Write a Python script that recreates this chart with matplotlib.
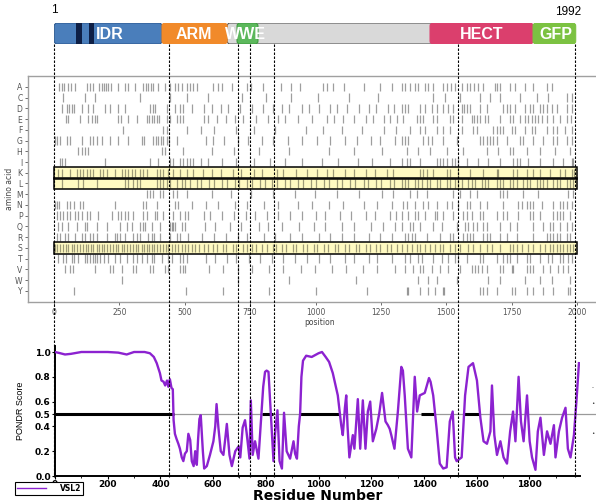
import matplotlib.pyplot as plt
import matplotlib.transforms as mtransforms
from matplotlib.patches import Rectangle, FancyBboxPatch
from matplotlib.lines import Line2D

W, H = 596, 503

# ---- domain map (residue ranges) ----
domain_names = ['IDR', 'ARM', 'WWE', 'HECT', 'GFP']
domain_start = [1, 413, 700, 1438, 1832]
domain_end = [413, 662, 780, 1832, 1995]
domain_colors = ['#4A7EBB', '#F18A2A', '#5CB85C', '#DB3F6D', '#7CC242']
domain_edges = ['#2E5A90', '#F18A2A', '#3E9A3E', '#DB3F6D', '#7CC242']
label_pos = [214, 535, 734, 1635, 1920]
backbone = (662, 1438)
motif_start = [84, 134]
motif_end = [107, 153]
boundaries = [1, 440, 704, 750, 841, 1545, 1992]
seq_len = 1992

# ---- residue positions per amino acid ----
aa_letters = ['A', 'C', 'D', 'E', 'F', 'G', 'H', 'I', 'K', 'L',
              'M', 'N', 'P', 'Q', 'R', 'S', 'T', 'V', 'W', 'Y']
highlight = ['K', 'L', 'S']

pos_A = [20, 29, 38, 55, 65, 80, 127, 138, 148, 173, 182, 191, 199, 208, 217, 246, 272, 284,
         310, 342, 352, 361, 370, 380, 399, 425, 444, 463, 474, 489, 508, 520, 533, 546,
         608, 627, 642, 681, 738, 753, 799, 868, 906, 941, 1028, 1044, 1067, 1109, 1185,
         1247, 1293, 1330, 1342, 1361, 1380, 1393, 1419, 1431, 1451, 1489, 1502, 1517, 1533,
         1559, 1578, 1591, 1606, 1623, 1639, 1686, 1695, 1706, 1744, 1763, 1801, 1833, 1884, 1903]
pos_C = [36, 119, 157, 329, 444, 507, 590, 720, 810, 905, 1010, 1130, 1240,
         1451, 1495, 1553, 1629, 1667, 1706, 1782, 1846, 1890, 1961, 1980]
pos_D = [29, 49, 57, 68, 76, 106, 131, 150, 195, 214, 246, 272, 367, 377, 386, 431, 463, 482,
         494, 527, 575, 603, 637, 665, 711, 756, 798, 836, 871, 899, 947, 976, 1012, 1057, 1082,
         1121, 1166, 1203, 1231, 1277, 1300, 1329, 1342, 1355, 1400, 1419, 1444, 1463, 1489,
         1508, 1527, 1559, 1568, 1578, 1591, 1629, 1655, 1718, 1731, 1744, 1763, 1801, 1820,
         1833, 1859, 1871, 1884, 1903, 1922, 1961, 1980]
pos_E = [46, 55, 99, 131, 144, 157, 166, 246, 255, 284, 316, 354, 364, 374, 382, 393, 403, 431,
         444, 469, 482, 494, 572, 588, 624, 657, 693, 721, 774, 818, 857, 884, 933, 986, 1043,
         1071, 1104, 1147, 1193, 1218, 1263, 1286, 1312, 1336, 1387, 1400, 1412, 1451, 1463,
         1514, 1527, 1559, 1597, 1606, 1616, 1629, 1648, 1661, 1706, 1744, 1757, 1782, 1801,
         1814, 1827, 1839, 1852, 1865, 1884, 1909, 1935, 1961, 1976]
pos_F = [265, 418, 431, 507, 563, 612, 697, 764, 846, 963, 1027, 1103, 1176, 1262, 1308,
         1361, 1400, 1419, 1463, 1489, 1514, 1559, 1604, 1616, 1680, 1693, 1706, 1718, 1750,
         1763, 1801, 1827, 1839, 1884, 1909, 1922, 1954, 1980]
pos_G = [4, 13, 23, 49, 61, 106, 138, 150, 163, 182, 214, 246, 284, 335, 344, 380, 390, 399,
         408, 418, 431, 441, 469, 583, 607, 652, 703, 741, 794, 836, 893, 947, 1004, 1057, 1113,
         1157, 1214, 1246, 1303, 1329, 1342, 1355, 1412, 1431, 1444, 1489, 1540, 1629, 1642,
         1655, 1667, 1680, 1693, 1731, 1782, 1795, 1833, 1871, 1909, 1922, 1961, 1980]
pos_H = [93, 106, 119, 131, 412, 425, 494, 603, 688, 784, 897, 1053, 1146, 1254,
         1349, 1393, 1438, 1502, 1565, 1655, 1699, 1744, 1757, 1807, 1859, 1916, 1973]
pos_I = [23, 32, 42, 195, 367, 399, 444, 456, 482, 494, 507, 520, 533, 562, 587, 643, 697, 763,
         827, 884, 947, 1023, 1087, 1163, 1217, 1284, 1329, 1349, 1361, 1400, 1463, 1476, 1489,
         1502, 1521, 1533, 1546, 1578, 1623, 1661, 1706, 1757, 1769, 1782, 1814, 1859, 1909,
         1948, 1980, 1986]
pos_K = [17, 29, 61, 87, 99, 112, 125, 138, 150, 176, 189, 201, 233, 259, 272, 284, 297, 310,
         329, 342, 354, 393, 405, 418, 437, 456, 482, 507, 533, 568, 603, 637, 684, 716, 763,
         797, 853, 877, 924, 967, 1004, 1043, 1067, 1114, 1146, 1194, 1227, 1273, 1297, 1400,
         1412, 1425, 1451, 1502, 1514, 1546, 1591, 1642, 1693, 1699, 1757, 1769, 1807, 1833,
         1859, 1897, 1935, 1954, 1980, 1988]
pos_L = [29, 93, 112, 163, 272, 284, 303, 316, 329, 393, 405, 418, 431, 444, 469, 488, 501,
         520, 546, 563, 594, 612, 643, 661, 693, 708, 738, 757, 788, 806, 834, 852, 884, 901,
         934, 952, 983, 1001, 1034, 1052, 1083, 1102, 1133, 1151, 1184, 1202, 1233, 1251, 1284,
         1302, 1329, 1342, 1355, 1380, 1393, 1406, 1425, 1438, 1463, 1476, 1502, 1514, 1533,
         1546, 1559, 1584, 1597, 1610, 1635, 1648, 1661, 1693, 1706, 1718, 1744, 1757, 1769,
         1795, 1807, 1820, 1846, 1859, 1871, 1884, 1909, 1922, 1935, 1961, 1973, 1986]
pos_M = [354, 367, 380, 405, 418, 456, 469, 507, 603, 677, 754, 837, 923, 997, 1084, 1167,
         1253, 1297, 1361, 1387, 1425, 1527, 1553, 1591, 1616, 1706, 1718, 1731, 1795, 1852,
         1967, 1986]
pos_N = [4, 10, 20, 48, 61, 76, 99, 110, 233, 342, 352, 393, 463, 475, 527, 583, 627, 693,
         737, 804, 857, 933, 987, 1053, 1107, 1184, 1237, 1293, 1336, 1349, 1380, 1412, 1431,
         1463, 1502, 1521, 1546, 1578, 1591, 1629, 1655, 1718, 1776, 1788, 1807, 1820, 1833,
         1865, 1909, 1935, 1948, 1961, 1980]
pos_P = [10, 23, 36, 48, 61, 80, 93, 106, 125, 138, 170, 221, 246, 255, 272, 284, 303, 342,
         354, 386, 393, 418, 456, 482, 501, 514, 573, 597, 643, 687, 733, 767, 813, 857, 903,
         947, 1003, 1037, 1093, 1137, 1193, 1227, 1283, 1307, 1329, 1355, 1380, 1393, 1419,
         1457, 1463, 1489, 1527, 1565, 1578, 1597, 1629, 1642, 1693, 1718, 1731, 1776, 1820,
         1833, 1859, 1909, 1922, 1935, 1948, 1973]
pos_Q = [17, 29, 55, 87, 119, 125, 163, 201, 252, 278, 297, 329, 339, 348, 374, 405, 444,
         450, 456, 463, 488, 501, 577, 617, 673, 717, 783, 817, 873, 937, 993, 1037, 1103,
         1147, 1213, 1257, 1303, 1329, 1361, 1374, 1400, 1451, 1482, 1540, 1572, 1584, 1604,
         1616, 1642, 1655, 1706, 1744, 1769, 1833, 1871, 1897, 1909, 1935, 1961, 1980]
pos_R = [13, 23, 42, 55, 80, 106, 119, 138, 150, 163, 201, 233, 242, 252, 272, 303, 316, 329,
         361, 374, 382, 405, 444, 469, 482, 514, 567, 613, 657, 703, 737, 803, 847, 903, 947,
         1013, 1057, 1103, 1147, 1203, 1247, 1293, 1342, 1355, 1368, 1380, 1425, 1476, 1514,
         1527, 1565, 1578, 1591, 1604, 1642, 1655, 1667, 1706, 1731, 1769, 1833, 1884, 1897,
         1909, 1922, 1935, 1961, 1973]
pos_S = [4, 13, 23, 36, 46, 55, 68, 76, 89, 99, 112, 122, 131, 140, 150, 163, 173, 182, 191,
         201, 214, 224, 237, 246, 259, 268, 278, 291, 303, 314, 322, 335, 344, 354, 365, 374,
         382, 393, 405, 418, 428, 437, 450, 463, 475, 488, 501, 514, 527, 539, 553, 572, 588,
         607, 623, 647, 658, 683, 697, 723, 737, 757, 773, 797, 813, 837, 848, 873, 887, 913,
         927, 953, 967, 993, 1007, 1033, 1047, 1073, 1087, 1113, 1127, 1153, 1167, 1193, 1207,
         1233, 1247, 1273, 1287, 1313, 1329, 1349, 1368, 1387, 1400, 1419, 1438, 1457, 1476,
         1489, 1514, 1533, 1553, 1584, 1604, 1629, 1655, 1674, 1706, 1744, 1757, 1769, 1788,
         1814, 1833, 1859, 1878, 1897, 1909, 1922, 1935, 1948, 1961, 1973, 1986]
pos_T = [17, 36, 46, 68, 76, 93, 119, 128, 138, 148, 157, 166, 176, 191, 208, 233, 252, 278,
         303, 316, 335, 354, 374, 382, 412, 437, 450, 482, 494, 507, 583, 617, 663, 697, 747,
         787, 833, 877, 923, 967, 1013, 1057, 1113, 1147, 1203, 1237, 1293, 1342, 1361, 1393,
         1406, 1451, 1482, 1508, 1533, 1546, 1578, 1629, 1642, 1693, 1718, 1731, 1744, 1769,
         1807, 1820, 1859, 1890, 1903, 1935, 1948, 1967, 1980]
pos_V = [42, 61, 71, 157, 214, 224, 259, 303, 314, 367, 380, 425, 437, 482, 492, 501, 593,
         647, 703, 757, 823, 877, 943, 997, 1063, 1117, 1183, 1237, 1303, 1342, 1374, 1400,
         1412, 1444, 1476, 1508, 1553, 1597, 1610, 1623, 1635, 1655, 1706, 1718, 1750, 1757,
         1807, 1820, 1833, 1871, 1897, 1929, 1948, 1967]
pos_W = [259, 703, 897, 1153, 1393, 1431, 1463, 1540, 1661, 1706, 1801, 1859, 1903, 1973]
pos_Y = [76, 505, 647, 823, 1003, 1197, 1349, 1355, 1400, 1431, 1457, 1489, 1493, 1629, 1642,
         1655, 1693, 1750, 1763, 1807, 1833, 1871, 1909, 1967, 1973]

aa_positions = [pos_A, pos_C, pos_D, pos_E, pos_F, pos_G, pos_H, pos_I, pos_K, pos_L,
                pos_M, pos_N, pos_P, pos_Q, pos_R, pos_S, pos_T, pos_V, pos_W, pos_Y]

# ---- PONDR VSL2 disorder score ----
vsl2_res = [0, 20, 38, 60, 100, 150, 200, 240, 272, 300, 340, 360, 375, 386, 398, 404, 412,
            418, 425, 430, 436, 442, 447, 450, 455, 461, 468, 474, 481, 487, 493, 500, 506, 513,
            519, 526, 532, 538, 543, 548, 553, 561, 566, 576, 588, 601, 608, 613, 620, 629, 639,
            646, 652, 662, 671, 684, 697, 703, 712, 721, 727, 738, 743, 750, 759, 772, 784, 790,
            797, 803, 810, 815, 819, 829, 835, 844, 852, 861, 869, 879, 892, 905, 911, 918, 925,
            930, 935, 941, 953, 974, 1000, 1013, 1027, 1040, 1054, 1073, 1086, 1092, 1100, 1105,
            1110, 1117, 1130, 1136, 1149, 1158, 1168, 1178, 1187, 1196, 1206, 1219, 1230, 1241,
            1254, 1263, 1270, 1276, 1288, 1301, 1314, 1320, 1327, 1339, 1352, 1365, 1374, 1384,
            1403, 1419, 1425, 1435, 1448, 1460, 1473, 1486, 1498, 1509, 1518, 1524, 1543, 1556,
            1569, 1586, 1601, 1614, 1626, 1639, 1652, 1658, 1667, 1677, 1690, 1702, 1715, 1727,
            1738, 1747, 1759, 1768, 1778, 1791, 1801, 1810, 1823, 1832, 1842, 1855, 1867, 1880,
            1893, 1899, 1912, 1924, 1937, 1946, 1956, 1969, 1979, 1988]
vsl2_score = [1.0, 0.99, 0.98, 0.985, 1.0, 1.0, 1.0, 0.995, 0.98, 1.0, 1.0, 0.99, 0.96, 0.91,
              0.83, 0.77, 0.76, 0.73, 0.77, 0.72, 0.78, 0.71, 0.70, 0.45, 0.34, 0.30, 0.26, 0.22,
              0.15, 0.12, 0.18, 0.20, 0.34, 0.29, 0.12, 0.08, 0.20, 0.09, 0.30, 0.46, 0.49, 0.20,
              0.06, 0.08, 0.17, 0.28, 0.40, 0.58, 0.39, 0.20, 0.17, 0.30, 0.42, 0.17, 0.08, 0.20,
              0.24, 0.15, 0.39, 0.45, 0.35, 0.14, 0.61, 0.17, 0.28, 0.14, 0.52, 0.72, 0.84, 0.85,
              0.84, 0.65, 0.51, 0.12, 0.34, 0.53, 0.12, 0.06, 0.51, 0.20, 0.14, 0.28, 0.18, 0.14,
              0.40, 0.50, 0.80, 0.93, 0.97, 0.96, 0.99, 1.0, 0.96, 0.92, 0.83, 0.65, 0.41, 0.33,
              0.55, 0.65, 0.40, 0.15, 0.33, 0.22, 0.62, 0.22, 0.61, 0.22, 0.52, 0.60, 0.28, 0.38,
              0.50, 0.67, 0.44, 0.41, 0.38, 0.33, 0.22, 0.52, 0.88, 0.85, 0.65, 0.22, 0.15, 0.80,
              0.52, 0.65, 0.67, 0.79, 0.76, 0.65, 0.38, 0.10, 0.06, 0.07, 0.44, 0.52, 0.15, 0.12,
              0.15, 0.65, 0.88, 0.91, 0.77, 0.47, 0.28, 0.26, 0.36, 0.73, 0.33, 0.17, 0.28, 0.15,
              0.10, 0.36, 0.52, 0.28, 0.80, 0.44, 0.28, 0.65, 0.28, 0.15, 0.05, 0.36, 0.47, 0.17,
              0.36, 0.26, 0.41, 0.15, 0.36, 0.47, 0.55, 0.22, 0.15, 0.33, 0.62, 0.91]
disorder_start = [1, 784, 930, 1390, 1550]
disorder_end = [450, 827, 1080, 1440, 1610]


def box(left, top, right, bottom):
    return [left / W, 1 - bottom / H, (right - left) / W, (bottom - top) / H]


fig = plt.figure(figsize=(W / 100, H / 100), dpi=100)

# ---- domain bar ----
ax_bar = fig.add_axes(box(54, 23, 577, 44))
ax_bar.set_xlim(0, 2000)
ax_bar.set_ylim(0, 1)
ax_bar.axis('off')
asp = (1 / 21) / (2000 / 523)
rs = 3 * 2000 / 523

ax_bar.add_patch(FancyBboxPatch((backbone[0], 0), backbone[1] - backbone[0] + 20, 1,
                                boxstyle=f'round,pad=0,rounding_size={rs}', mutation_aspect=asp,
                                fc='#D9D9D9', ec='#555555', lw=0.8, zorder=1))
for name, s, e, c, ec in zip(domain_names, domain_start, domain_end, domain_colors,
                             domain_edges):
    ax_bar.add_patch(FancyBboxPatch((s, 0), e - s, 1,
                                    boxstyle=f'round,pad=0,rounding_size={rs}',
                                    mutation_aspect=asp, fc=c, ec=ec, lw=0.8, zorder=2))
for s, e in zip(motif_start, motif_end):
    ax_bar.add_patch(Rectangle((s, 0.02), e - s, 0.96, fc='#0E1F45', ec='none', zorder=3))
for name, lp in zip(domain_names, label_pos):
    ax_bar.text(lp, 0.47, name, ha='center', va='center', color='white', fontsize=11.5,
                fontweight='bold', family='Liberation Sans', zorder=5)
ax_bar.text(1, 1.35, '1', ha='center', va='bottom', fontsize=8.5, family='Liberation Sans')
ax_bar.text(seq_len - 25, 1.25, str(seq_len), ha='center', va='bottom', fontsize=8.5,
            family='Liberation Sans')

# ---- amino acid position map ----
ax_mid = fig.add_axes(box(28, 76, 612, 302))
x_left = (28 - 54) * 2000 / 523
x_right = (612 - 54) * 2000 / 523
ax_mid.set_xlim(x_left, x_right)
ax_mid.set_ylim(20.05, -1.02)
for aa in highlight:
    i = aa_letters.index(aa)
    ax_mid.add_patch(Rectangle((0, i - 0.54), 2000, 1.08, fc='#FFFAC2', ec='none', zorder=0))
    ax_mid.add_patch(Rectangle((0, i - 0.54), 2000, 1.08, fc='none', ec='black', lw=1.1,
                               zorder=4))
ax_mid.eventplot(aa_positions, lineoffsets=list(range(len(aa_letters))), linelengths=0.78,
                 colors='black', alpha=0.38, linewidths=0.9, zorder=2)
ax_mid.set_yticks(range(len(aa_letters)))
ax_mid.set_yticklabels(aa_letters)
ax_mid.set_xticks([0, 250, 500, 750, 1000, 1250, 1500, 1750, 2000])
ax_mid.tick_params(labelsize=5.5, colors='#555555', length=2.5, width=0.6, pad=1.5)
for side in ['top', 'left', 'bottom', 'right']:
    ax_mid.spines[side].set_color('#A0A0A0')
    ax_mid.spines[side].set_linewidth(1.0)
ax_mid.set_xlabel('position', fontsize=5.5, color='#444444', labelpad=1)
ax_mid.set_ylabel('amino acid', fontsize=5.5, color='#444444', labelpad=1)

# ---- PONDR plot ----
ax_p = fig.add_axes(box(55, 345.8, 580, 476))
ax_p.set_xlim(0, seq_len)
ax_p.set_ylim(0, 1.05)
ax_p.plot([0, 2060], [0.5, 0.5], color='#9A9A9A', lw=0.9, clip_on=False, zorder=1)
for s, e in zip(disorder_start, disorder_end):
    ax_p.plot([s, e], [0.5, 0.5], color='black', lw=2.2, solid_capstyle='butt', zorder=2)
line, = ax_p.plot(vsl2_res, vsl2_score, color='#8C22D0', lw=1.7, zorder=3)
for side in ['top', 'right']:
    ax_p.spines[side].set_visible(False)
for side in ['left', 'bottom']:
    ax_p.spines[side].set_linewidth(1.4)
ax_p.set_yticks([0.0, 0.2, 0.4, 0.5, 0.6, 0.8, 1.0])
ax_p.set_yticklabels(['0.0', '0.2', '0.4', '0.5', '0.6', '0.8', '1.0'])
ax_p.set_xticks(range(0, 1801, 200))
ax_p.set_xticks(range(100, 2000, 200), minor=True)
ax_p.tick_params(labelsize=6.5, length=2, width=0.8, pad=1)
ax_p.tick_params(which='minor', length=1.5, width=0.6)
for lab in ax_p.get_xticklabels() + ax_p.get_yticklabels():
    lab.set_fontweight('bold')
ax_p.set_xlabel('Residue Number', fontsize=10, fontweight='bold')
ax_p.xaxis.set_label_coords(0.5, -0.098)
ax_p.set_ylabel('PONDR Score', fontsize=6.5, family='Liberation Sans', labelpad=7)
leg = ax_p.legend([line], ['VSL2'], loc='lower left', bbox_to_anchor=(15 / W, 1 - 495 / H),
                  bbox_transform=fig.transFigure, fancybox=False, framealpha=1,
                  edgecolor='black', borderpad=0.25, handlelength=3.8, handletextpad=1.8,
                  borderaxespad=0, prop={'weight': 'bold', 'size': 5.5})
leg.get_frame().set_linewidth(0.8)
leg.get_lines()[0].set_linewidth(1.0)

# cut-off tick remnants at the right edge
for yy, mark in [(388, '-'), (404, '•'), (433, '•')]:
    fig.text(593 / W, 1 - yy / H, mark, ha='center', va='center', fontsize=4, color='#333333')

# ---- domain boundary guides ----
trans = mtransforms.blended_transform_factory(ax_mid.transData, fig.transFigure)
for b in boundaries:
    fig.add_artist(Line2D([b, b], [1 - 44 / H, 1 - 477 / H], transform=trans, color='black',
                          lw=0.8, ls=(0, (2.2, 1.4)), zorder=10))

fig.savefig('out.png', dpi=100)
